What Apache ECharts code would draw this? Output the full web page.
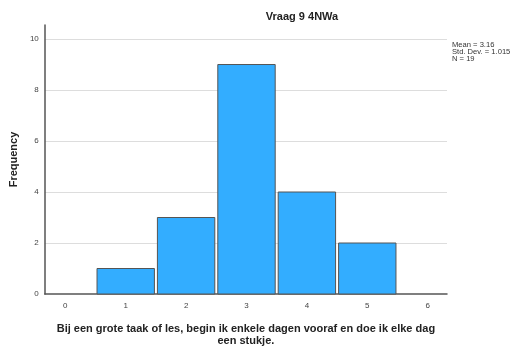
<!DOCTYPE html>
<html><head><meta charset="utf-8">
<script src="https://cdn.jsdelivr.net/npm/echarts@6/dist/echarts.min.js"></script>
<style>html,body{margin:0;padding:0;background:#fff}#c{width:513px;height:352px}</style>
</head><body><div id="c"></div>
<script>
const binCenters = [1, 2, 3, 4, 5];
const frequencies = [1, 3, 9, 4, 2];
const xTicks = [0, 1, 2, 3, 4, 5, 6];
const yTicks = [0, 2, 4, 6, 8, 10];
const statsLines = ['Mean = 3.16', 'Std. Dev. = 1.015', 'N = 19'];
const titleText = 'Vraag 9 4NWa';
const xName = 'Bij een grote taak of les, begin ik enkele dagen vooraf en doe ik elke dag\neen stukje.';
const yName = 'Frequency';

const chart = echarts.init(document.getElementById('c'));
const data = binCenters.map((c, i) => [c, frequencies[i]]);
chart.setOption({
  animation: false,
  textStyle: { fontFamily: 'Liberation Sans, Arial' },
  title: [
    { text: titleText, left: 297, top: 6, textAlign: 'center',
      textStyle: { fontSize: 11, fontWeight: 'bold', color: '#222' } },
    { text: statsLines.join('\n'), left: 447, top: 36,
      textStyle: { fontSize: 7.6, fontWeight: 'normal', color: '#333', lineHeight: 7 } }
  ],
  grid: { left: 42, right: 66, top: 25, bottom: 53 },
  xAxis: {
    type: 'value', min: -0.34, max: 6.32, interval: 1,
    axisLine: { show: true, onZero: false, lineStyle: { color: '#555', width: 1.5 } },
    axisTick: { show: false },
    splitLine: { show: false },
    axisLabel: { fontSize: 8, color: '#444', margin: 8,
      customValues: xTicks, formatter: v => String(v) },
    name: xName, nameLocation: 'middle', nameGap: 29,
    nameTextStyle: { fontSize: 11, fontWeight: 'bold', color: '#222', lineHeight: 12 }
  },
  yAxis: {
    type: 'value', min: 0, max: 10.55, interval: 2,
    axisLine: { show: true, onZero: false, lineStyle: { color: '#555', width: 1.5 } },
    axisTick: { show: false },
    splitLine: { show: true, showMinLine: false, showMaxLine: false, lineStyle: { color: '#ddd', width: 1 } },
    axisLabel: { fontSize: 8, color: '#444', margin: 6,
      customValues: yTicks, formatter: v => String(v) },
    name: yName, nameLocation: 'middle', nameGap: 24, nameRotate: 90,
    nameTextStyle: { fontSize: 11, fontWeight: 'bold', color: '#222' }
  },
  series: [{
    type: 'custom',
    data: data,
    renderItem: function (params, api) {
      const c = api.value(0), v = api.value(1);
      const p0 = api.coord([c - 0.5, 0]);
      const p1 = api.coord([c + 0.5, v]);
      return {
        type: 'rect',
        shape: { x: p0[0] + 1.5, y: p1[1], width: p1[0] - p0[0] - 3, height: p0[1] - p1[1] },
        style: { fill: '#33adff', stroke: '#555', lineWidth: 1 }
      };
    }
  }]
});
</script></body></html>
